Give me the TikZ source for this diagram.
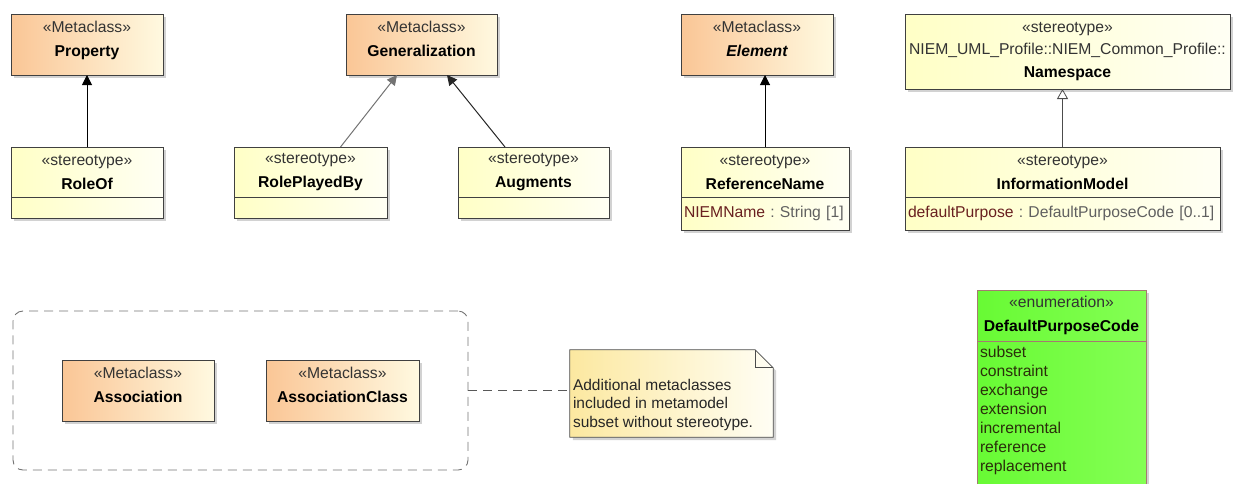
\documentclass[tikz,border=0pt]{standalone}
\usepackage{fontspec}
\setmainfont{Liberation Sans}
\usetikzlibrary{arrows.meta,positioning,calc,fit,shadows}

\definecolor{metaL}{RGB}{250,198,150}
\definecolor{metaR}{RGB}{255,249,224}
\definecolor{stereoL}{RGB}{255,255,198}
\definecolor{stereoR}{RGB}{255,255,244}
\definecolor{noteL}{RGB}{252,232,160}
\definecolor{noteR}{RGB}{255,254,244}
\definecolor{enumL}{RGB}{104,250,52}
\definecolor{enumR}{RGB}{132,255,84}
\definecolor{enumline}{RGB}{165,122,112}
\definecolor{attrname}{RGB}{105,32,32}
\definecolor{attrtype}{RGB}{96,96,96}
\definecolor{litcol}{RGB}{42,46,10}

\newcommand{\clsname}[1]{{\color{black}\bfseries #1}}
\newcommand{\attr}[2]{{\color{attrname}#1}\ {\color{attrtype}:\ #2}}

\begin{document}
\begin{tikzpicture}[
    x=1pt, y=-1pt,
    >=Stealth,
    cls/.style={
        draw=black!75, line width=0.9pt, align=center, inner sep=2pt, outer sep=0pt,
        text=black!80, font=\fontsize{15.7}{24}\selectfont,
        drop shadow={shadow xshift=3pt, shadow yshift=-3pt, fill=black!35}
    },
    metaclass/.style={cls, left color=metaL, right color=metaR, minimum height=61pt},
    stereo/.style={cls, left color=stereoL, right color=stereoR, minimum height=50pt},
    compart/.style={cls, left color=stereoL, right color=stereoR, align=left,
        inner xsep=3pt, font=\fontsize{15.7}{19}\selectfont},
    enumbox/.style={draw=enumline, left color=enumL, right color=enumR},
    notefill/.style={draw=black!70, line width=0.8pt, left color=noteL, right color=noteR,
        drop shadow={shadow xshift=3pt, shadow yshift=-3pt, fill=black!35}},
    notetext/.style={align=left, inner sep=0pt, text=black!85, font=\fontsize{15.5}{18.5}\selectfont},
    ext/.style={-{Triangle[length=10pt, width=10pt]}, line width=1pt, draw=black},
    gen/.style={-{Triangle[open, length=10pt, width=11pt]}, line width=0.8pt, draw=black!70},
    group/.style={draw=black!55, line width=0.9pt, dash pattern=on 9pt off 6pt,
        rounded corners=10pt, inner sep=49pt},
    link/.style={draw=black!65, line width=0.9pt, dash pattern=on 9pt off 6pt}
]
    \useasboundingbox (0,0) rectangle (1233,483);
    \clip (0,0) rectangle (1233,483);

    \node[metaclass, minimum width=152pt] (property) at (87,44.5) {«Metaclass»\\\clsname{Property}\\[-12pt]\mbox{}};
    \node[metaclass, minimum width=151pt] (generalization) at (421.5,44.5) {«Metaclass»\\\clsname{Generalization}\\[-12pt]\mbox{}};
    \node[metaclass, minimum width=152pt] (element) at (757,44.5) {«Metaclass»\\\clsname{\itshape Element}\\[-12pt]\mbox{}};
    \node[stereo, minimum width=325pt, minimum height=75pt, font=\fontsize{15.7}{22.5}\selectfont] (namespace) at (1067.5,51.5)
        {«stereotype»\\NIEM\_UML\_Profile::NIEM\_Common\_Profile::\\\clsname{Namespace}};

    \node[stereo, minimum width=152pt, below=72pt of property] (roleof) {«stereotype»\\\clsname{RoleOf}};
    \node[compart, text width=146pt, minimum height=21pt, below=0pt of roleof] (roleofbody) {};

    \node[stereo, minimum width=153pt, below=72pt of generalization, xshift=-111pt] (roleplayedby) {«stereotype»\\\clsname{RolePlayedBy}};
    \node[compart, text width=147pt, minimum height=21pt, below=0pt of roleplayedby] (roleplayedbybody) {};

    \node[stereo, minimum width=151pt, below=72pt of generalization, xshift=112pt] (augments) {«stereotype»\\\clsname{Augments}};
    \node[compart, text width=145pt, minimum height=21pt, below=0pt of augments] (augmentsbody) {};

    \node[stereo, minimum width=168pt, below=72pt of element, xshift=8pt] (referencename) {«stereotype»\\\clsname{ReferenceName}};
    \node[compart, text width=162pt, minimum height=33pt, below=0pt of referencename] (referencenamebody) {\attr{NIEMName}{String [1]}};

    \node[stereo, minimum width=315pt, below=58pt of namespace, xshift=-5pt] (informationmodel) {«stereotype»\\\clsname{InformationModel}};
    \node[compart, text width=309pt, minimum height=33pt, below=0pt of informationmodel] (informationmodelbody) {\attr{defaultPurpose}{DefaultPurposeCode [0..1]}};

    \draw[ext] (roleof) -- (property);
    \draw[ext, draw=black!55] ([xshift=30pt]roleplayedby.north) -- ([xshift=-24.5pt]generalization.south);
    \draw[ext, draw=black!85] ([xshift=-28.5pt]augments.north) -- ([xshift=25.5pt]generalization.south);
    \draw[ext] (referencename.north) -- (referencename.north |- element.south);
    \draw[gen] (informationmodel.north) -- (informationmodel.north |- namespace.south);

    \node[metaclass, minimum width=152pt] (association) at (138,390.5) {«Metaclass»\\\clsname{Association}\\[-12pt]\mbox{}};
    \node[metaclass, minimum width=153pt, right=52pt of association] (associationclass) {«Metaclass»\\\clsname{AssociationClass}\\[-12pt]\mbox{}};
    \node[group, fit=(association)(associationclass)] (subset) {};

    \node[minimum width=203pt, minimum height=87pt, inner sep=0pt] (note) at (671.5,393.5) {};
    \path[notefill] (note.north west) -- ([xshift=-18pt]note.north east) -- ([yshift=-18pt]note.north east)
        -- (note.south east) -- (note.south west) -- cycle;
    \draw[draw=black!70, line width=0.8pt] ([xshift=-18pt]note.north east) |- ([yshift=-18pt]note.north east);
    \node[notetext, anchor=north west] (notetxt) at ([xshift=3pt, yshift=-29pt]note.north west)
        {Additional metaclasses\\included in metamodel\\subset without stereotype.};
    \draw[link] (subset.east) -- (subset.east -| note.west);

    \node[stereo, enumbox, minimum width=169pt, minimum height=51pt] (purposecode) at (1061.5,315.5)
        {«enumeration»\\\clsname{DefaultPurposeCode}};
    \node[compart, enumbox, text width=163pt, inner ysep=5pt, text=litcol, below=0pt of purposecode] (purposelits)
        {subset\\constraint\\exchange\\extension\\incremental\\reference\\replacement\\\mbox{}};
\end{tikzpicture}
\end{document}
